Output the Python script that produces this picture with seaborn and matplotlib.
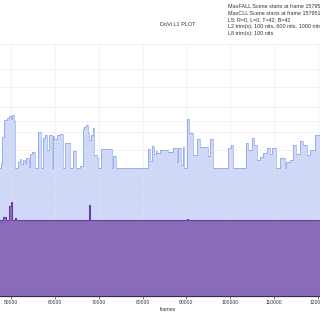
import numpy as np
import pandas as pd
import matplotlib
matplotlib.use("Agg")
import matplotlib.pyplot as plt
import seaborn as sns

# ---- data (DoVi L1 metadata, 12-bit PQ codes) ----
max_frames = [0, 47700, 47950, 48400, 49000, 49600, 50000, 50300, 50600, 50912,
              51600, 52000, 52300, 52700, 53100, 53500, 54000, 54300, 54800, 55470,
              56230, 56770, 57230, 57750, 58280, 58740, 59280, 59500, 59880, 60560,
              61170, 61780, 62300, 63450, 64136, 64820, 65732, 66490, 66720, 67100,
              67480, 67860, 68160, 68620, 69000, 69530, 69910, 70520, 73028,
              73256, 73940, 81236, 81800, 82200, 82700, 83000, 83288, 83972, 85870,
              87010, 87780, 88160, 88700, 89160, 89450, 89900, 90128, 90584, 91496,
              92408, 93092, 94916, 95372, 96056, 99476, 100160, 100616, 103580, 104036,
              104948, 105500, 106088, 106800, 107456, 108368, 109000, 109508, 110420, 111332,
              112472, 112800, 113612, 114296, 115000, 115892, 116576, 117488, 118172, 119312,
              120452, 121500, 160000]
max_pq = [2081, 2161, 2584, 2860, 2900, 2925, 2880, 2941, 2840, 2081,
          2180, 2230, 2150, 2210, 2160, 2240, 2100, 2300, 2340, 2081,
          2665, 2081, 2568, 2616, 2373, 2616, 2081, 2600, 2551, 2616,
          2632, 2081, 2486, 2081, 2356, 2081, 2113, 2714, 2746, 2779,
          2649, 2535, 2616, 2730, 2291, 2243, 2081, 2389, 2081,
          2275, 2081, 2389, 2200, 2440, 2300, 2356, 2320, 2373, 2340,
          2405, 2178, 2405, 2129, 2421, 2081, 2081, 2876, 2649, 2291,
          2551, 2421, 2275, 2551, 2081, 2405, 2454, 2081, 2486, 2373,
          2568, 2450, 2210, 2260, 2324, 2405, 2300, 2405, 2081, 2243,
          2081, 2178, 2210, 2454, 2300, 2519, 2454, 2291, 2373, 2616,
          2500, 2081, 2081]

avg_frames = [0, 48176, 48860, 49544, 49900, 50228, 50912, 51140, 67800, 68050, 90128, 90350, 160000]
avg_pq = [1235, 1284, 1235, 1470, 1520, 1235, 1268, 1235, 1479, 1235, 1250, 1235, 1235]

nit_ticks = [0, 0.1, 1, 10, 25, 50, 100, 200, 400, 600, 1000, 2000, 4000, 10000]
x_ticks = [50000, 60000, 70000, 80000, 90000, 100000, 110000, 120000]

title = "DoVi L1 PLOT"
info_lines = ["MaxFALL Scene starts at frame 157951",
              "MaxCLL Scene starts at frame 157951",
              "L5: R=0, L=0, T=42, B=42",
              "L2 trim(s): 100 nits, 600 nits, 1000 nits",
              "L8 trim(s): 100 nits"]


def nits_to_code(n):
    m1, m2 = 0.1593017578125, 78.84375
    c1, c2, c3 = 0.8359375, 18.8515625, 18.6875
    y = np.asarray(n, dtype=float) / 10000.0
    ym = np.power(y, m1)
    return np.power((c1 + c2 * ym) / (1 + c3 * ym), m2) * 4095


sns.set_theme(style="whitegrid")
plt.rcParams['font.family'] = ['Liberation Sans', 'DejaVu Sans']

df_max = pd.DataFrame({"frame": max_frames, "pq": max_pq})
df_avg = pd.DataFrame({"frame": avg_frames, "pq": avg_pq})

fig = plt.figure(figsize=(3.2, 3.2), dpi=100)
ax = fig.add_axes([-0.651, 0.075, 2.193, 0.7875])

ax.fill_between(df_max["frame"], df_max["pq"], step="post",
                color="#4169e1", alpha=0.25, linewidth=0, zorder=2)
sns.lineplot(data=df_max, x="frame", y="pq", ax=ax, drawstyle="steps-post",
             color="#4169e1", alpha=0.45, linewidth=0.6, zorder=3)
ax.fill_between(df_avg["frame"], df_avg["pq"], step="post",
                color="#7851a9", alpha=0.8, linewidth=0, zorder=4)
sns.lineplot(data=df_avg, x="frame", y="pq", ax=ax, drawstyle="steps-post",
             color="#6a3fa0", linewidth=0.8, zorder=5)

ax.set_xlim(0, 160000)
ax.set_ylim(0, 4095)
ax.set_xticks(x_ticks)
ax.set_xticklabels([str(v) for v in x_ticks], fontsize=3.6, color="#333333")
ax.set_yticks(nits_to_code(nit_ticks))
ax.tick_params(axis="y", labelleft=False, left=False)
ax.tick_params(axis="x", length=2, width=0.5, pad=1, bottom=True, color="#444444")
ax.grid(True, color="#e4e4ea", linewidth=0.5, zorder=1)
ax.set_axisbelow(False)
for gl in ax.get_xgridlines() + ax.get_ygridlines():
    gl.set_alpha(0.6)
for s in ["top", "left", "right"]:
    ax.spines[s].set_visible(False)
ax.spines["bottom"].set_color("#3a2a4a")
ax.spines["bottom"].set_linewidth(0.9)
ax.set_ylabel("")
ax.set_xlabel("frames", fontsize=3.8, color="#333333", labelpad=1)
ax.xaxis.set_label_coords((168 + 208.3) / 701.8, -0.045)

fig.text(177.5 / 320, 1 - 25 / 320, title, fontsize=4.0, ha="center", va="center", color="#333333")
for i, line in enumerate(info_lines):
    fig.text(228 / 320, 1 - (7 + i * 6.6) / 320, line, fontsize=3.9,
             ha="left", va="center", color="#333333")

fig.savefig("out.png", dpi=100, facecolor="white")
